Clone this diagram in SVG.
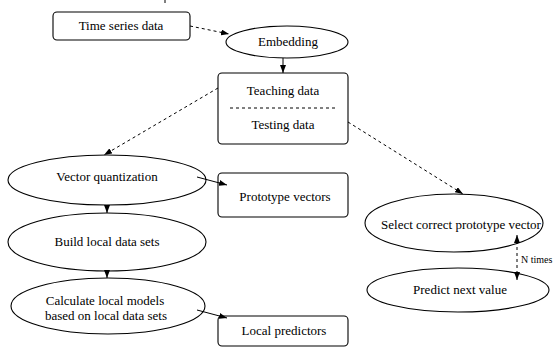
<svg xmlns="http://www.w3.org/2000/svg" width="557" height="348" viewBox="0 0 557 348">
  <defs>
    <marker id="arrow" viewBox="0 0 8 6" refX="8" refY="3" markerWidth="8" markerHeight="6" markerUnits="userSpaceOnUse" orient="auto-start-reverse">
      <path d="M0,0 L8,3 L0,6 Z" fill="#000"/>
    </marker>
    <style>
      .shape { fill: #fff; stroke: #000; stroke-width: 1.1; }
      .label { font-size: 13px; fill: #000; text-anchor: middle; }
      .small { font-size: 10px; fill: #000; }
      .solid { fill: none; stroke: #000; stroke-width: 1; }
      .dashed { fill: none; stroke: #000; stroke-width: 1; stroke-dasharray: 3 3; }
    </style>
  </defs>
  <rect width="557" height="348" fill="#fff"/>

  <g font-family="'Liberation Serif', 'Times New Roman', serif">
  <!-- small mark at the top edge -->
  <line x1="165" y1="0" x2="165" y2="3" class="solid"/>

  <g id="time-series-data">
    <rect x="53" y="12" width="137" height="28" rx="4" class="shape"/>
    <text x="121" y="30" class="label">Time series data</text>
  </g>

  <g id="embedding">
    <ellipse cx="287" cy="42" rx="61" ry="16" class="shape"/>
    <text x="288" y="46" class="label">Embedding</text>
  </g>

  <g id="teaching-testing-data">
    <rect x="218" y="73" width="130" height="71" rx="4" class="shape"/>
    <text x="283" y="95" class="label">Teaching data</text>
    <line x1="230" y1="108" x2="336" y2="108" class="dashed"/>
    <text x="283" y="129" class="label">Testing data</text>
  </g>

  <g id="vector-quantization">
    <ellipse cx="107" cy="180" rx="99" ry="25" class="shape"/>
    <text x="107" y="181" class="label">Vector quantization</text>
  </g>

  <g id="prototype-vectors">
    <rect x="218" y="173" width="130" height="44" rx="4" class="shape"/>
    <text x="285" y="201" class="label">Prototype vectors</text>
  </g>

  <g id="build-local-data-sets">
    <ellipse cx="107" cy="242" rx="99" ry="29" class="shape"/>
    <text x="107" y="246" class="label">Build local data sets</text>
  </g>

  <g id="calculate-local-models">
    <ellipse cx="108" cy="306" rx="97" ry="28" class="shape"/>
    <text x="105" y="305" class="label">Calculate local models</text>
    <text x="106" y="320" class="label">based on local data sets</text>
  </g>

  <g id="local-predictors">
    <rect x="218" y="316" width="130" height="30" rx="4" class="shape"/>
    <text x="284" y="335" class="label">Local predictors</text>
  </g>

  <g id="select-prototype-vector">
    <ellipse cx="454" cy="223" rx="89" ry="29" class="shape"/>
    <text x="461" y="229" class="label">Select correct prototype vector</text>
  </g>

  <g id="predict-next-value">
    <ellipse cx="458" cy="290" rx="91" ry="22" class="shape"/>
    <text x="460" y="294" class="label">Predict next value</text>
  </g>

  <g id="connectors">
    <line x1="190" y1="26" x2="229" y2="34" class="dashed" marker-end="url(#arrow)"/>
    <line x1="283" y1="58" x2="283" y2="73" class="solid" marker-end="url(#arrow)"/>
    <line x1="218" y1="88" x2="104" y2="155" class="dashed" marker-end="url(#arrow)"/>
    <line x1="348" y1="122" x2="463" y2="194" class="dashed" marker-end="url(#arrow)"/>
    <line x1="197" y1="177" x2="227" y2="185" class="solid" marker-end="url(#arrow)"/>
    <line x1="107" y1="205" x2="107" y2="213" class="solid" marker-end="url(#arrow)"/>
    <line x1="107" y1="271" x2="107" y2="278" class="solid" marker-end="url(#arrow)"/>
    <line x1="197" y1="310" x2="227" y2="318" class="solid" marker-end="url(#arrow)"/>
    <line x1="517" y1="235" x2="517" y2="280" class="dashed" marker-start="url(#arrow)" marker-end="url(#arrow)"/>
    <text x="521" y="263" class="small">N times</text>
  </g>
  </g>
</svg>
